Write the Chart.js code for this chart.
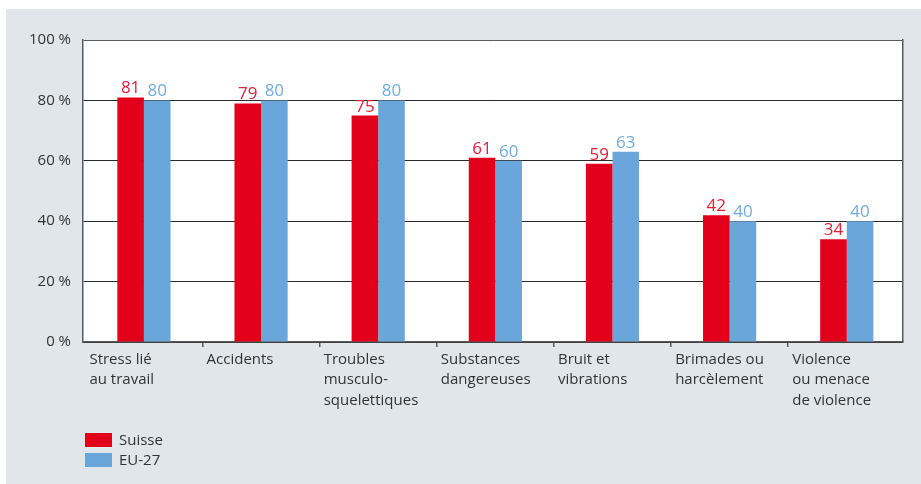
<!DOCTYPE html>
<html>
<head>
<meta charset="utf-8">
<script src="https://cdn.jsdelivr.net/npm/chart.js@4.4.1/dist/chart.umd.min.js"></script>
<style>
  html, body { margin: 0; padding: 0; background: #fff; }
  #panel {
    position: absolute;
    left: 6px; top: 9px;
    width: 915px; height: 475px;
    background: #e1e6ea;
  }
  #chart { display: block; }
</style>
</head>
<body>
<div id="panel">
  <canvas id="chart" width="915" height="475"></canvas>
</div>
<script>
// Data
const categories = [
  ['Stress lié', 'au travail'],
  ['Accidents'],
  ['Troubles', 'musculo-', 'squelettiques'],
  ['Substances', 'dangereuses'],
  ['Bruit et', 'vibrations'],
  ['Brimades ou', 'harcèlement'],
  ['Violence', 'ou menace', 'de violence']
];
const suisse = [81, 79, 75, 61, 59, 42, 34];
const eu27 = [80, 80, 80, 60, 63, 40, 40];
const seriesNames = ['Suisse', 'EU-27'];

const colors = {
  red: '#e2001a',
  redText: '#e3203a',
  blue: '#6aa6da',
  blueText: '#72ace0',
  text: '#333333',
  axis: '#5a5a5a',
  grid: '#2a2a2a'
};

Chart.defaults.font.family = "'Open Sans', 'Noto Sans', sans-serif";
Chart.defaults.color = colors.text;

// White plot background
const plotBackground = {
  id: 'plotBackground',
  beforeDraw(chart) {
    const {ctx, chartArea: a} = chart;
    ctx.save();
    ctx.fillStyle = '#ffffff';
    ctx.fillRect(a.left, a.top, a.right - a.left, a.bottom - a.top);
    ctx.restore();
  }
};

// Value labels above each bar
const valueLabels = {
  id: 'valueLabels',
  afterDatasetsDraw(chart) {
    const ctx = chart.ctx;
    ctx.save();
    ctx.font = "17px 'Open Sans', sans-serif";
    ctx.textAlign = 'center';
    ctx.textBaseline = 'alphabetic';
    chart.data.datasets.forEach((ds, i) => {
      const meta = chart.getDatasetMeta(i);
      ctx.fillStyle = ds.labelColor;
      meta.data.forEach((bar, j) => {
        ctx.fillText(ds.data[j], bar.x, bar.y - 4);
      });
    });
    ctx.restore();
  }
};

// Stacked legend under the axis labels
const stackedLegend = {
  id: 'stackedLegend',
  afterDraw(chart) {
    const ctx = chart.ctx;
    const left = chart.chartArea.left + 2;
    let top = 424;
    ctx.save();
    ctx.font = "15px 'Open Sans', sans-serif";
    ctx.textBaseline = 'middle';
    chart.data.datasets.forEach(ds => {
      ctx.fillStyle = ds.backgroundColor;
      ctx.fillRect(left, top, 27, 14);
      ctx.fillStyle = colors.text;
      ctx.fillText(ds.label, left + 34, top + 7.5);
      top += 20;
    });
    ctx.restore();
  }
};

const ctx = document.getElementById('chart');

new Chart(ctx, {
  type: 'bar',
  data: {
    labels: categories,
    datasets: [
      {
        label: seriesNames[0],
        data: suisse,
        backgroundColor: colors.red,
        labelColor: colors.redText
      },
      {
        label: seriesNames[1],
        data: eu27,
        backgroundColor: colors.blue,
        labelColor: colors.blueText
      }
    ]
  },
  options: {
    responsive: false,
    animation: false,
    events: [],
    categoryPercentage: 0.454,
    barPercentage: 1,
    layout: {
      padding: { left: 0, top: 31, right: 18, bottom: 0 }
    },
    plugins: {
      legend: { display: false },
      tooltip: { enabled: false }
    },
    scales: {
      x: {
        offset: true,
        afterDataLimits(scale) {
          // groups sit slightly right of the axis line
          scale.min = -0.02;
        },
        afterBuildTicks(scale) {
          scale.ticks = categories.map((c, i) => ({ value: i }));
        },
        grid: {
          offset: true,
          drawOnChartArea: false,
          drawTicks: true,
          tickLength: 5,
          color: c => (c.index === 0 || c.index >= categories.length) ? 'rgba(0,0,0,0)' : colors.axis,
          lineWidth: 1.5
        },
        border: { display: true, color: colors.axis, width: 1.5 },
        ticks: {
          align: 'start',
          labelOffset: -54.5,
          padding: 3,
          autoSkip: false,
          maxRotation: 0,
          color: colors.text,
          font: { size: 15, lineHeight: 1.34 }
        },
        afterFit(scale) {
          scale.height = 142;
          scale.paddingLeft = 0;
          scale.paddingRight = 0;
        }
      },
      y: {
        min: 0,
        max: 100,
        grid: {
          drawTicks: false,
          color: c => (c.tick && c.tick.value === 100) ? colors.axis : colors.grid,
          lineWidth: 1
        },
        border: { display: true, color: colors.axis, width: 1.5 },
        ticks: {
          stepSize: 20,
          padding: 12,
          color: colors.text,
          font: { size: 15 },
          callback: v => v + ' %'
        },
        afterFit(scale) {
          scale.width = 77;
        }
      },
      y2: {
        position: 'right',
        min: 0,
        max: 100,
        grid: { display: false, drawTicks: false },
        border: { display: true, color: colors.axis, width: 1.5 },
        ticks: { display: false },
        afterFit(scale) {
          scale.width = 0;
        }
      }
    }
  },
  plugins: [plotBackground, valueLabels, stackedLegend]
});
</script>
</body>
</html>
